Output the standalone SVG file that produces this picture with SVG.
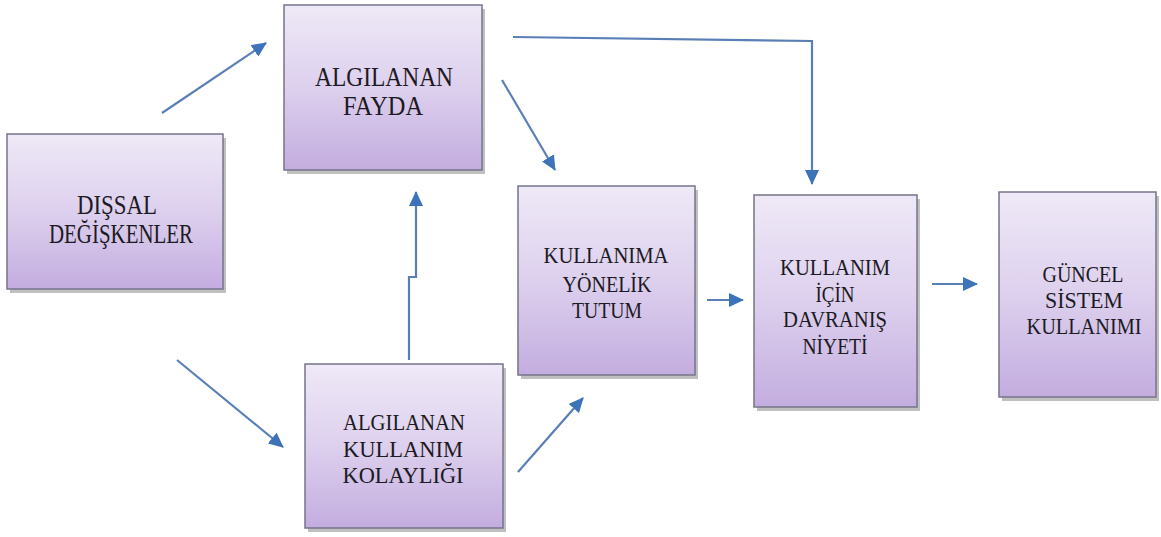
<svg xmlns="http://www.w3.org/2000/svg" width="1161" height="537" viewBox="0 0 1161 537">
<defs>
<linearGradient id="g" x1="0" y1="0" x2="0" y2="1">
<stop offset="0" stop-color="#efe9f7"/>
<stop offset="0.5" stop-color="#ddd0ee"/>
<stop offset="1" stop-color="#c3addf"/>
</linearGradient>
<marker id="ah" markerUnits="userSpaceOnUse" markerWidth="16" markerHeight="14" refX="14" refY="7" orient="auto">
<path d="M0,0 L15,7 L0,14 z" fill="#3d73b9"/>
</marker>
</defs>
<style>
.sh{fill:#8c8c8c;opacity:0.55}
.bx{fill:url(#g);stroke:#76748a;stroke-width:1.5}
.t{font-family:"Liberation Serif","Times New Roman",serif;fill:#1c1a22;text-anchor:middle}
.c{fill:none;stroke:#5a7fb7;stroke-width:2.2}
.a{marker-end:url(#ah)}
</style>
<rect width="1161" height="537" fill="#ffffff"/>
<g id="n1">
<rect class="sh" x="10" y="138" width="216" height="155"/>
<rect class="bx" x="7" y="134" width="216" height="155"/>
<text class="t" font-size="27" x="117" y="214" textLength="80" lengthAdjust="spacingAndGlyphs">DIŞSAL</text>
<text class="t" font-size="27" x="121" y="243" textLength="144" lengthAdjust="spacingAndGlyphs">DEĞİŞKENLER</text>
</g>
<g id="n2">
<rect class="sh" x="287" y="9" width="198" height="165"/>
<rect class="bx" x="284" y="5" width="198" height="165"/>
<text class="t" font-size="27" x="384" y="86" textLength="138" lengthAdjust="spacingAndGlyphs">ALGILANAN</text>
<text class="t" font-size="27" x="383" y="115" textLength="80" lengthAdjust="spacingAndGlyphs">FAYDA</text>
</g>
<g id="n3">
<rect class="sh" x="308" y="368" width="198" height="164"/>
<rect class="bx" x="305" y="364" width="198" height="164"/>
<text class="t" font-size="23" x="404" y="430" textLength="122" lengthAdjust="spacingAndGlyphs">ALGILANAN</text>
<text class="t" font-size="23" x="403" y="457" textLength="120" lengthAdjust="spacingAndGlyphs">KULLANIM</text>
<text class="t" font-size="23" x="403" y="483" textLength="121" lengthAdjust="spacingAndGlyphs">KOLAYLIĞI</text>
</g>
<g id="n4">
<rect class="sh" x="521" y="190" width="177" height="189"/>
<rect class="bx" x="518" y="186" width="177" height="189"/>
<text class="t" font-size="23" x="606" y="263" textLength="125" lengthAdjust="spacingAndGlyphs">KULLANIMA</text>
<text class="t" font-size="23" x="607" y="292" textLength="89" lengthAdjust="spacingAndGlyphs">YÖNELİK</text>
<text class="t" font-size="23" x="607" y="318" textLength="70" lengthAdjust="spacingAndGlyphs">TUTUM</text>
</g>
<g id="n5">
<rect class="sh" x="757" y="199" width="163" height="212"/>
<rect class="bx" x="754" y="195" width="163" height="212"/>
<text class="t" font-size="23" x="835" y="275" textLength="110" lengthAdjust="spacingAndGlyphs">KULLANIM</text>
<text class="t" font-size="23" x="835" y="302" textLength="39" lengthAdjust="spacingAndGlyphs">İÇİN</text>
<text class="t" font-size="23" x="835" y="327" textLength="104" lengthAdjust="spacingAndGlyphs">DAVRANIŞ</text>
<text class="t" font-size="23" x="835" y="354" textLength="65" lengthAdjust="spacingAndGlyphs">NİYETİ</text>
</g>
<g id="n6">
<rect class="sh" x="1002" y="196" width="157" height="205"/>
<rect class="bx" x="999" y="192" width="157" height="205"/>
<text class="t" font-size="23" x="1083" y="282" textLength="81" lengthAdjust="spacingAndGlyphs">GÜNCEL</text>
<text class="t" font-size="23" x="1084" y="308" textLength="78" lengthAdjust="spacingAndGlyphs">SİSTEM</text>
<text class="t" font-size="23" x="1084" y="334" textLength="115" lengthAdjust="spacingAndGlyphs">KULLANIMI</text>
</g>
<g id="connectors">
<line class="c a" x1="162" y1="113" x2="266" y2="43"/>
<line class="c a" x1="177" y1="360" x2="283" y2="447"/>
<line class="c a" x1="502" y1="80" x2="555" y2="170"/>
<polyline class="c a" points="513,37 812,41 812,184"/>
<polyline class="c a" points="409,360 409,277 416,277 416,192"/>
<line class="c a" x1="518" y1="472" x2="583" y2="398"/>
<line class="c a" x1="707" y1="300" x2="743" y2="300"/>
<line class="c a" x1="932" y1="284" x2="977" y2="284"/>
</g>
</svg>
